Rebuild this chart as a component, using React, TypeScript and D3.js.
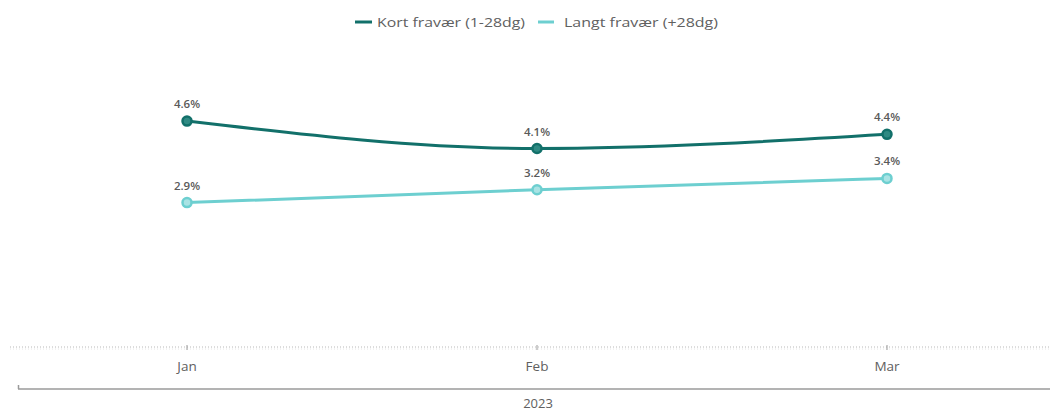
import React from "react";
import * as d3 from "d3";

const months = ["Jan", "Feb", "Mar"];
const kort = [4.64, 4.06, 4.36];
const langt = [2.92, 3.19, 3.43];
const seriesNames = ["Kort fravær (1-28dg)", "Langt fravær (+28dg)"];
const yearLabel = "2023";

const W = 1050;
const H = 412;
const FONT = "'Open Sans', 'Noto Sans', sans-serif";

export default function App() {
  const x = d3.scalePoint<string>().domain(months).range([187, 887]);
  const y = d3.scaleLinear().domain([0, 5]).range([341, 104]);
  const colors = ["#12706a", "#6dcfd0"];
  const fills = ["#2f8a83", "#a9e3e4"];
  const series = [kort, langt];
  const line = d3
    .line<number>()
    .x((_, i) => x(months[i]) as number)
    .y((d) => y(d))
    .curve(d3.curveMonotoneX);

  return (
    <svg width={W} height={H} style={{ position: "absolute", left: 0, top: 0, background: "#fff" }}>
      {/* legend */}
      <g fontFamily={FONT} fontSize={13} fill="#606060">
        <line x1={355} x2={372} y1={22} y2={22} stroke={colors[0]} strokeWidth={3} />
        <text x={377} y={27} textLength={148} lengthAdjust="spacingAndGlyphs">{seriesNames[0]}</text>
        <line x1={538} x2={554} y1={22} y2={22} stroke={colors[1]} strokeWidth={3} />
        <text x={564} y={27} textLength={154} lengthAdjust="spacingAndGlyphs">{seriesNames[1]}</text>
      </g>

      {/* x axis */}
      <line x1={10} x2={1050} y1={347} y2={347} stroke="#b8b8b8" strokeDasharray="1,2" />
      <line x1={10} x2={1050} y1={349} y2={349} stroke="#e6e6e6" strokeDasharray="1,2" />
      {months.map((m) => (
        <g key={m}>
          <line x1={x(m)} x2={x(m)} y1={345} y2={350} stroke="#999" />
          <text x={x(m)} y={371} textAnchor="middle" fontFamily={FONT} fontSize={13.5} fill="#606060">
            {m}
          </text>
        </g>
      ))}
      <line x1={18} x2={1050} y1={389} y2={389} stroke="#9a9a9a" strokeWidth={1.5} />
      <line x1={18.5} x2={18.5} y1={385} y2={389} stroke="#9a9a9a" strokeWidth={1.5} />
      <text x={538} y={408} textAnchor="middle" fontFamily={FONT} fontSize={13} fill="#606060">
        {yearLabel}
      </text>

      {/* lines */}
      {series.map((s, si) => (
        <g key={si}>
          <path d={line(s) || ""} fill="none" stroke={colors[si]} strokeWidth={3} />
          {s.map((v, i) => (
            <g key={i}>
              <circle cx={x(months[i])} cy={y(v)} r={4.5} fill={fills[si]} stroke={colors[si]} strokeWidth={2.5} />
              <text
                x={x(months[i])}
                y={y(v) - 13}
                textAnchor="middle"
                fontFamily={FONT}
                fontSize={11.5}
                fontWeight={600}
                fill="#5a5a5a"
              >
                {d3.format(".1f")(v)}%
              </text>
            </g>
          ))}
        </g>
      ))}
    </svg>
  );
}
